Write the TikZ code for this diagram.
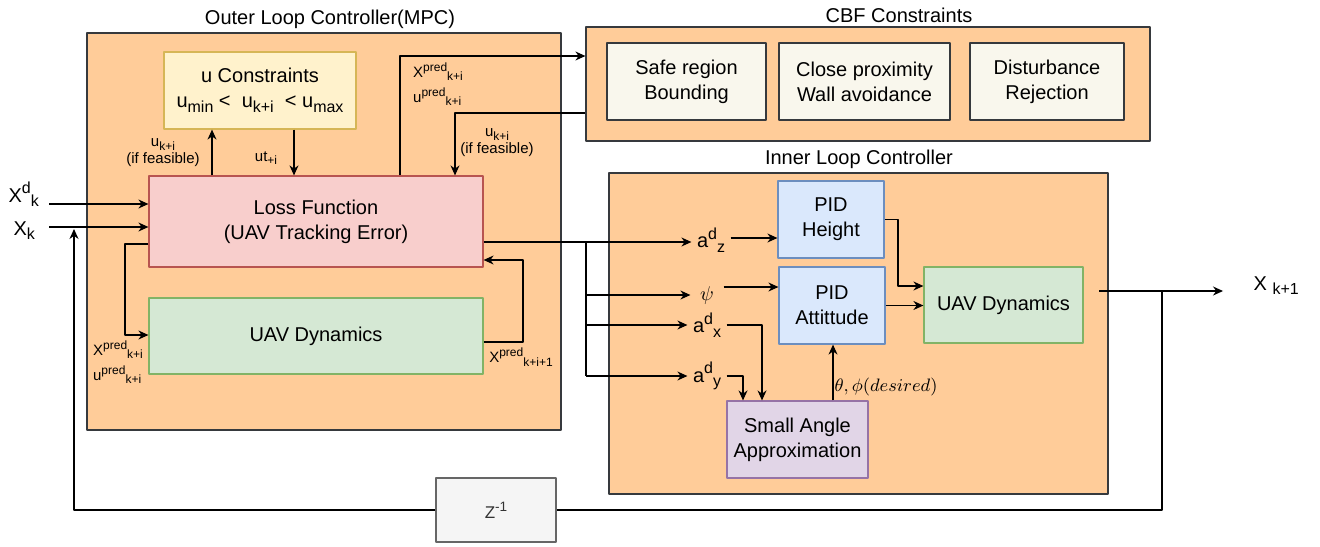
\documentclass[tikz,border=0pt]{standalone}
\usepackage{fontspec}
\setmainfont{Liberation Sans}
\usetikzlibrary{arrows.meta}
\makeatletter
\newcommand\hsup[1]{\raisebox{.42em}{\fontsize{\strip@pt\dimexpr.8\dimexpr\f@size pt\relax\relax}{0pt}\selectfont#1}}
\newcommand\hsub[1]{\raisebox{-.22em}{\fontsize{\strip@pt\dimexpr.8\dimexpr\f@size pt\relax\relax}{0pt}\selectfont#1}}
\makeatother
\definecolor{grpfill}{HTML}{FFCC99}
\definecolor{grpline}{HTML}{36393D}
\definecolor{ucfill}{HTML}{FFF2CC}
\definecolor{ucline}{HTML}{D6B656}
\definecolor{lossfill}{HTML}{F8CECC}
\definecolor{lossline}{HTML}{B85450}
\definecolor{dynfill}{HTML}{D5E8D4}
\definecolor{dynline}{HTML}{82B366}
\definecolor{cbfsub}{HTML}{F9F7ED}
\definecolor{pidfill}{HTML}{DAE8FC}
\definecolor{pidline}{HTML}{6C8EBF}
\definecolor{smafill}{HTML}{E1D5E7}
\definecolor{smaline}{HTML}{9673A6}
\definecolor{zfill}{HTML}{F5F5F5}
\definecolor{zline}{HTML}{666666}
\definecolor{ztext}{HTML}{333333}
\begin{document}
\begin{tikzpicture}[x=0.5pt, y=-0.5pt, font=\fontsize{10}{12.5}\selectfont, line join=round, line width=0.6pt, >={Stealth[length=5pt,width=4.5pt]},
	wh/.style 2 args={minimum width=#1*0.5pt, minimum height=#2*0.5pt},
	grp/.style={draw=grpline, fill=grpfill, inner sep=0pt},
	blk/.style={draw, inner sep=0pt, align=center},
	ttl/.style={anchor=south, inner sep=2pt},
	lbl/.style={font=\fontsize{7.5}{8.5}\selectfont, inner sep=1pt, align=center},
	sig/.style={inner sep=2.5pt}]
	\useasboundingbox (0,0) rectangle (1320,546);
	% groups
	\node[grp, wh={474}{397}] (outer) at (324,231.5) {};
	\node[grp, wh={564}{114}] (cbf) at (868,84) {};
	\node[grp, wh={499}{321}] (inner) at (858.5,333.5) {};
	\node[ttl] (outertit) at (330,33) {Outer Loop Controller(MPC)};
	\node[ttl] (cbftit) at (899,27) {CBF Constraints};
	\node[ttl] (innertit) at (859,173) {Inner Loop Controller};
	% outer loop blocks
	\node[blk, wh={192}{77}, draw=ucline, fill=ucfill] (ucons) at (260,90.5) {u Constraints\\u\hsub{min} <~~u\hsub{k+i}~~< u\hsub{max}};
	\node[blk, wh={334}{91}, draw=lossline, fill=lossfill] (loss) at (316,221.5) {Loss Function\\(UAV Tracking Error)};
	\node[blk, wh={334}{76}, draw=dynline, fill=dynfill] (dynout) at (316,336) {UAV Dynamics};
	\foreach \n/\x/\w/\txt in {safe/686.5/159/{Safe region\\Bounding}, close/864.5/171/{Close proximity\\Wall avoidance}, dist/1047/154/{Disturbance\\Rejection}}
		\node[blk, wh={\w}{77}, draw=grpline, fill=cbfsub] (\n) at (\x,81.5) {\txt};
	% inner loop blocks
	\node[blk, wh={106}{77}, draw=pidline, fill=pidfill] (pidh) at (831,219.5) {PID\\Height};
	\node[blk, wh={106}{77}, draw=pidline, fill=pidfill] (pida) at (832,305.5) {PID\\Attittude};
	\node[blk, wh={159}{76}, draw=dynline, fill=dynfill] (dynin) at (1003.5,305) {UAV Dynamics};
	\node[blk, wh={141}{77}, draw=smaline, fill=smafill] (small) at (797.5,439.5) {Small Angle\\Approximation};
	\node[blk, wh={120}{64}, draw=zline, fill=zfill, text=ztext, font=\fontsize{8.5}{10}\selectfont] (zinv) at (496,510) {Z\hsup{-1}};
	% signals
	\node[anchor=base west, inner sep=0pt] (xdk) at (8,202) {X\hsup{d}\hsub{k}};
	\node[anchor=base west, inner sep=0pt] (xk) at (13,235) {X\hsub{k}};
	\node[anchor=base west, inner sep=0pt] (xnext) at (1253,290) {X \hsub{k+1}};
	\node[sig] (adz) at (711,240) {a\hsup{d}\hsub{z}};
	\node[sig, minimum width=16pt] (psi) at (707,295) {$\psi$};
	\node[sig] (adx) at (707,325) {a\hsup{d}\hsub{x}};
	\node[sig] (ady) at (707,376) {a\hsup{d}\hsub{y}};
	\node[inner sep=1pt, font=\fontsize{9}{10}\selectfont] (angdes) at (886,387) {$\theta,\phi(desired)$};
	\node[lbl] (ufeas) at (163,153) {u\hsub{k+i}\\(if feasible)};
	\node[lbl] (utl) at (266,158) {ut\hsub{+i}};
	\node[lbl, align=left, font=\fontsize{7.5}{12.5}\selectfont] (predtop) at (438,84) {X\hsup{pred}\hsub{k+i}\\u\hsup{pred}\hsub{k+i}};
	\node[lbl] (cbffeas) at (497,143) {u\hsub{k+i}\\(if feasible)};
	\node[lbl, align=left, font=\fontsize{7.5}{12.5}\selectfont] (predleft) at (118,362) {X\hsup{pred}\hsub{k+i}\\u\hsup{pred}\hsub{k+i}};
	\node[lbl] (prednext) at (521,357) {X\hsup{pred}\hsub{k+i+1}};
	\coordinate (xdin) at (49,204);
	\coordinate (xin) at (49,227);
	\coordinate (fbin) at (74,229);
	\coordinate (yout) at (1099,291);
	\coordinate (yend) at (1223,291);
	\coordinate (ytap) at (1162,291);
	\coordinate (split) at (586,242);
	% outer loop wiring
	\draw[->] (xdin) -- (xdin -| loss.west);
	\draw[->] (xin) -- (xin -| loss.west);
	\draw[->] (loss.north -| 212,0) -- (ucons.south -| 212,0);
	\draw[->] (ucons.south -| 294,0) -- (loss.north -| 294,0);
	\draw[->] (loss.north -| 400,0) |- (cbf.west |- 0,56);
	\draw[->] (cbf.west |- 0,113) -| (loss.north -| 455,0);
	\draw[->] (loss.west |- 0,244) -- (125,244) |- (dynout.west |- 0,335);
	\draw[->] (dynout.east |- 0,342) -- (523,342) |- (loss.east |- 0,260);
	% inner loop wiring
	\draw[->] (loss.east |- split) -- (adz.west |- split);
	\draw (split) -- (586,0 |- ady.west);
	\foreach \n in {psi,adx,ady}
		\draw[->] (586,0 |- \n.west) -- (\n.west);
	\draw[->] (adz.east |- 0,238) -- (pidh.west |- 0,238);
	\draw[->] (psi.east |- 0,287) -- (pida.west |- 0,287);
	\draw[->] (adx.east) -| (small.north -| 762,0);
	\draw[->] (ady.east) -| (small.north -| 743,0);
	\draw[->] (small.north -| 833,0) -- (pida.south -| 833,0);
	\draw[->] (pidh.east) -- (898,0 |- pidh.east) |- (dynin.west |- 0,286);
	\draw[->] (pida.east) -- (pida.east -| dynin.west);
	% feedback
	\draw[->] (yout) -- (yend);
	\draw (ytap) |- (zinv.east);
	\draw[->] (zinv.west) -| (fbin);
\end{tikzpicture}
\end{document}
